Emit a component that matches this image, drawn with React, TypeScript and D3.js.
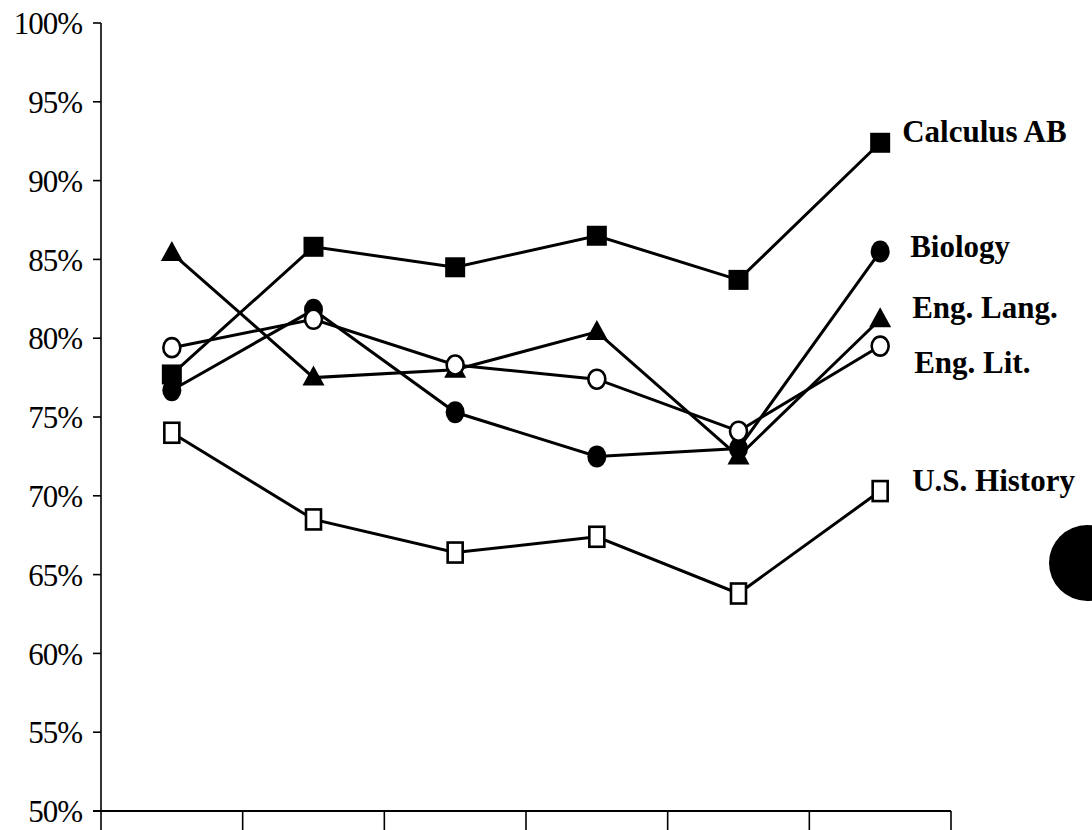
import * as d3 from 'd3';

const categories = ['1996-97', '1997-98', '1998-99', '1999-00', '2000-01', '2001-02'];
const calculus = [77.7, 85.8, 84.5, 86.5, 83.7, 92.4];
const biology = [76.7, 81.8, 75.3, 72.5, 73.0, 85.5];
const engLang = [85.4, 77.5, 78.0, 80.4, 72.5, 81.2];
const engLit = [79.4, 81.2, 78.3, 77.4, 74.1, 79.5];
const usHistory = [74.0, 68.5, 66.4, 67.4, 63.8, 70.3];
const yTicks = [50, 55, 60, 65, 70, 75, 80, 85, 90, 95, 100];

type Marker = 'fsquare' | 'fcircle' | 'triangle' | 'ocircle' | 'osquare';

const series: { name: string; values: number[]; marker: Marker }[] = [
  { name: 'Calculus AB', values: calculus, marker: 'fsquare' },
  { name: 'Biology', values: biology, marker: 'fcircle' },
  { name: 'Eng. Lang.', values: engLang, marker: 'triangle' },
  { name: 'Eng. Lit.', values: engLit, marker: 'ocircle' },
  { name: 'U.S. History', values: usHistory, marker: 'osquare' },
];

// label placement next to the last point (pixel offsets)
const labelOffsets = [
  { dx: 22, dy: -1 },
  { dx: 30, dy: 5 },
  { dx: 32, dy: -1 },
  { dx: 34, dy: 27 },
  { dx: 32, dy: 0 },
];

const width = 1092;
const height = 830;
const margin = { left: 101, right: 141, top: 23, bottom: 19 };

const x = d3
  .scaleBand<string>()
  .domain(categories)
  .range([margin.left, width - margin.right]);
const y = d3
  .scaleLinear()
  .domain([50, 100])
  .range([height - margin.bottom, margin.top]);

const line = d3
  .line<number>()
  .x((_, i) => x(categories[i])! + x.bandwidth() / 2)
  .y((d) => y(d));

function MarkerShape({ type, cx, cy }: { type: Marker; cx: number; cy: number }) {
  if (type === 'fsquare')
    return <rect x={cx - 10} y={cy - 10} width={20} height={20} fill="#000" />;
  if (type === 'fcircle') return <ellipse cx={cx} cy={cy} rx={9.5} ry={11} fill="#000" />;
  if (type === 'triangle')
    return <path d={`M${cx},${cy - 12}L${cx + 11},${cy + 8}L${cx - 11},${cy + 8}Z`} fill="#000" />;
  if (type === 'ocircle')
    return <ellipse cx={cx} cy={cy} rx={8.5} ry={9.5} fill="#fff" stroke="#000" strokeWidth={2.6} />;
  return (
    <rect x={cx - 7.5} y={cy - 10} width={15} height={20} fill="#fff" stroke="#000" strokeWidth={2.6} />
  );
}

export default function App() {
  const x0 = margin.left;
  const x1 = width - margin.right;
  const yBase = y(50);
  return (
    <div style={{ position: 'absolute', left: 0, top: 0 }}>
      <svg width={width} height={height} style={{ display: 'block', background: '#fff' }}>
        {/* y axis */}
        <line x1={x0} x2={x0} y1={y(100)} y2={yBase} stroke="#000" strokeWidth={1.6} />
        {yTicks.map((t) => (
          <g key={t}>
            <line x1={x0 - 8} x2={x0} y1={y(t)} y2={y(t)} stroke="#000" strokeWidth={1.6} />
            <text
              x={x0 - 19}
              y={y(t)}
              dy="0.36em"
              textAnchor="end"
              fontFamily="'Liberation Serif', 'Times New Roman', serif"
              fontSize={31}
              letterSpacing={-1}
              fill="#000"
            >
              {t}%
            </text>
          </g>
        ))}
        {/* x axis */}
        <line x1={x0 - 8} x2={x1} y1={yBase} y2={yBase} stroke="#000" strokeWidth={1.8} />
        {categories.map((c) => (
          <line
            key={'sep' + c}
            x1={x(c)! + x.bandwidth()}
            x2={x(c)! + x.bandwidth()}
            y1={yBase}
            y2={height}
            stroke="#000"
            strokeWidth={1.6}
          />
        ))}
        <line x1={x0} x2={x0} y1={yBase} y2={height} stroke="#000" strokeWidth={1.6} />
        {categories.map((c, i) =>
          i < 2 ? (
            <text
              key={'lab' + c}
              x={x(c)! + x.bandwidth() / 2 + (i === 0 ? 3 : -1)}
              y={yBase + 38}
              textAnchor="middle"
              fontFamily="'Liberation Serif', 'Times New Roman', serif"
              fontSize={30}
              fill="#000"
            >
              {c}
            </text>
          ) : null
        )}
        {/* lines */}
        {series.map((s) => (
          <path key={'l' + s.name} d={line(s.values)!} fill="none" stroke="#000" strokeWidth={3} />
        ))}
        {/* markers */}
        {series.map((s) =>
          s.values.map((v, i) => (
            <MarkerShape
              key={s.name + i}
              type={s.marker}
              cx={x(categories[i])! + x.bandwidth() / 2}
              cy={y(v)}
            />
          ))
        )}
        {/* series labels */}
        {series.map((s, k) => {
          const last = s.values.length - 1;
          const px = x(categories[last])! + x.bandwidth() / 2;
          return (
            <text
              key={'n' + s.name}
              x={px + labelOffsets[k].dx}
              y={y(s.values[last]) + labelOffsets[k].dy}
              fontFamily="'Liberation Serif', 'Times New Roman', serif"
              fontWeight="bold"
              fontSize={31}
              fill="#000"
            >
              {s.name}
            </text>
          );
        })}
        {/* punch hole from the scanned page */}
        <circle cx={1087} cy={563} r={38} fill="#000" />
      </svg>
    </div>
  );
}
